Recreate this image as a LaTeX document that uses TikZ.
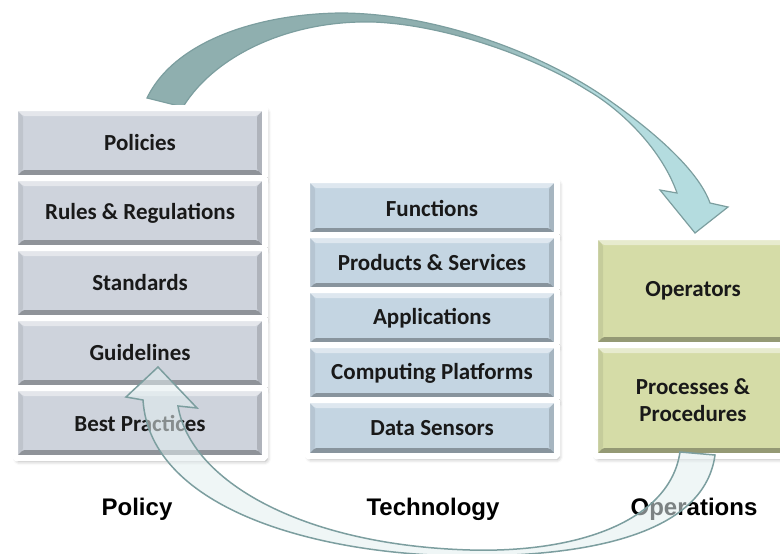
\documentclass[tikz,border=0pt]{standalone}
\usepackage{fontspec}
\usepackage{xcolor}
\usepackage{tikz}
\usetikzlibrary{shadows.blur}

\newfontfamily\boxfont{Carlito}
\newfontfamily\colfont{Liberation Sans}

\definecolor{policyblue}{HTML}{CED3DC}
\definecolor{techblue}{HTML}{C4D5E2}
\definecolor{opsgreen}{HTML}{D5DCA7}
\definecolor{arrowdark}{HTML}{8FAFAF}
\definecolor{arrowlight}{HTML}{B4DCDF}
\definecolor{arrowedge}{HTML}{7C9E9F}
\definecolor{arrowpale}{HTML}{E2EEEF}

% dark teal on the left, light cyan towards the head
\pgfdeclarehorizontalshading{arrowshade}{100bp}{color(0bp)=(arrowdark); color(52bp)=(arrowdark); color(64bp)=(arrowlight); color(100bp)=(arrowlight)}

\tikzset{
	bevel/.style={
			path picture={
					% bottom edge
					\fill[black, opacity=.30] (path picture bounding box.south west) -- (path picture bounding box.south east)
					-- ([xshift=-8pt,yshift=8pt]path picture bounding box.south east) -- ([xshift=8pt,yshift=8pt]path picture bounding box.south west) -- cycle;
					% right edge
					\fill[black, opacity=.15] (path picture bounding box.south east) -- (path picture bounding box.north east)
					-- ([xshift=-8pt,yshift=-8pt]path picture bounding box.north east) -- ([xshift=-8pt,yshift=8pt]path picture bounding box.south east) -- cycle;
					% top edge
					\fill[white, opacity=.45] (path picture bounding box.north west) -- (path picture bounding box.north east)
					-- ([xshift=-8pt,yshift=-8pt]path picture bounding box.north east) -- ([xshift=8pt,yshift=-8pt]path picture bounding box.north west) -- cycle;
					% left edge
					\fill[black, opacity=.07] (path picture bounding box.north west) -- (path picture bounding box.south west)
					-- ([xshift=8pt,yshift=8pt]path picture bounding box.south west) -- ([xshift=8pt,yshift=-8pt]path picture bounding box.north west) -- cycle;
				}
		},
	card/.style={
			rectangle, rounded corners=1.5pt, draw=white, line width=6pt,
			minimum width=250pt, align=center, text=black!90,
			font=\boxfont\bfseries\fontsize{23}{27}\selectfont,
			blur shadow={shadow xshift=2pt, shadow yshift=-3pt, shadow blur radius=4pt, shadow opacity=35},
			bevel
		},
	colname/.style={anchor=base, text=black, font=\colfont\bfseries\fontsize{24}{28}\selectfont},
	toparrow/.style={draw=arrowedge, line width=1.2pt, shading=arrowshade},
	backarrow/.style={draw=arrowedge, line width=1.5pt, fill=arrowpale, fill opacity=.55}
}

\begin{document}
\begin{tikzpicture}[x=1pt, y=-1pt]
	\useasboundingbox (0,0) rectangle (780,554);

	% Big arrow from policy over to operations
	\path[toparrow] (147,98) .. controls (175,40) and (260,14) .. (340,13)
	.. controls (430,13) and (540,50) .. (613,103)
	.. controls (665,140) and (700,175) .. (710,203)
	-- (728,207) -- (695,233) -- (660,190) -- (677,193)
	.. controls (662,150) and (622,110) .. (587,90)
	.. controls (540,60) and (450,25) .. (373,22)
	.. controls (290,20) and (215,55) .. (183,107) -- cycle;

	% Policy column
	\node[card, fill=policyblue, minimum height=70pt] (policies) at (140,143) {Policies};
	\node[card, fill=policyblue, minimum height=70pt] (rules) at (140,213) {Rules \& Regulations};
	\node[card, fill=policyblue, minimum height=70pt] (standards) at (140,283) {Standards};
	\node[card, fill=policyblue, minimum height=70pt] (guidelines) at (140,353) {Guidelines};
	\node[card, fill=policyblue, minimum height=70pt] (practices) at (140,423) {Best Practices};

	% Technology column
	\node[card, fill=techblue, minimum height=56pt] (functions) at (432,208) {Functions};
	\node[card, fill=techblue, minimum height=56pt] (products) at (432,263) {Products \& Services};
	\node[card, fill=techblue, minimum height=56pt] (applications) at (432,318) {Applications};
	\node[card, fill=techblue, minimum height=56pt] (platforms) at (432,373) {Computing Platforms};
	\node[card, fill=techblue, minimum height=56pt] (sensors) at (432,428) {Data Sensors};

	% Operations column
	\node[card, fill=opsgreen, minimum width=196pt, minimum height=108pt] (operators) at (693,291) {Operators};
	\node[card, fill=opsgreen, minimum width=196pt, minimum height=111pt] (processes) at (693,400.5) {Processes \&\\Procedures};

	% Column names
	\node[colname] (policy) at (137,515) {Policy};
	\node[colname] (technology) at (433,515) {Technology};
	\node[colname] (operations) at (694,515) {Operations};

	% Return arrow from operations back to the guidelines
	\path[backarrow] (158,367) -- (197,408) -- (178,406)
	.. controls (190,480) and (300,545) .. (470,550)
	.. controls (580,553) and (670,520) .. (680,452)
	-- (715,455)
	.. controls (705,530) and (600,556) .. (470,556)
	.. controls (320,556) and (150,510) .. (143,400)
	-- (126,397) -- cycle;
\end{tikzpicture}
\end{document}
